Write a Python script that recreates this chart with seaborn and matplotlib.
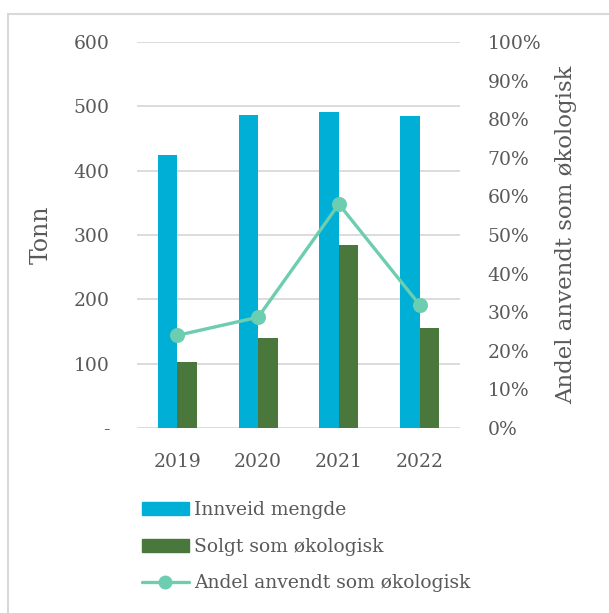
import pandas as pd
import matplotlib
matplotlib.use("Agg")
import matplotlib.pyplot as plt
import matplotlib.ticker as mticker
from matplotlib.patches import Rectangle, Patch
from matplotlib.lines import Line2D
import seaborn as sns

# data
years = ["2019", "2020", "2021", "2022"]
innveid = [424, 487, 491, 485]
solgt = [102, 140, 284, 155]
andel = [0.24, 0.287, 0.58, 0.319]

series_names = ["Innveid mengde", "Solgt som økologisk"]
line_name = "Andel anvendt som økologisk"

sns.set_style("white")
plt.rcParams['font.family'] = ['DejaVu Serif', 'DejaVu Sans']
txt = "#595959"
grid = "#D9D9D9"
blue, green, teal = "#00AFD6", "#4A773B", "#6DCDB1"

df = pd.DataFrame({
    "year": years * 2,
    "value": innveid + solgt,
    "series": [series_names[0]] * 4 + [series_names[1]] * 4,
})

fig = plt.figure(figsize=(6.09, 6.13), dpi=100)
ax = fig.add_axes([137 / 609, 1 - 428 / 613, (460 - 137) / 609, (428 - 42) / 613])

sns.barplot(data=df, x="year", y="value", hue="series", ax=ax, width=0.48,
            palette=[blue, green], saturation=1, legend=False, linewidth=0)
ax.set_ylim(0, 600)
ax.set_xlim(-0.5, 3.5)
ax.set_yticks(range(0, 601, 100))
ax.yaxis.set_major_formatter(mticker.FuncFormatter(lambda v, p: "-" if v == 0 else f"{int(v)}"))
ax.grid(axis="y", color=grid, linewidth=1.3)
ax.set_axisbelow(True)
for s in ax.spines.values():
    s.set_visible(False)
ax.tick_params(axis="y", length=0, pad=20, labelsize=13.5, labelcolor=txt)
ax.tick_params(axis="x", length=0, pad=18, labelsize=13.5, labelcolor=txt)
ax.set_xlabel("")
ax.set_ylabel("Tonn", fontsize=17, color=txt, labelpad=15)

ax2 = ax.twinx()
sns.pointplot(x=years, y=andel, ax=ax2, color=teal, markers="o",
              markersize=9, linewidth=2.4)
ax2.set_ylim(0, 1)
ax2.set_xlim(-0.5, 3.5)
ax2.set_yticks([i / 10 for i in range(11)])
ax2.yaxis.set_major_formatter(mticker.PercentFormatter(1.0, decimals=0))
for s in ax2.spines.values():
    s.set_visible(False)
ax2.tick_params(axis="y", length=0, pad=20, labelsize=13.5, labelcolor=txt)
ax2.set_ylabel(line_name, fontsize=16.5, color=txt, labelpad=10)

# chart border
fig.patches.append(Rectangle((8 / 609, -0.1), 1.2, 1 - 14 / 613 + 0.1, transform=fig.transFigure,
                             fill=False, edgecolor=grid, linewidth=1.5))

handles = [Patch(color=blue), Patch(color=green),
           Line2D([], [], color=teal, marker="o", markersize=9, linewidth=2.4)]
leg = fig.legend(handles, series_names + [line_name], loc="upper left",
                 bbox_to_anchor=(125 / 609, 1 - 484 / 613), frameon=False,
                 fontsize=13.5, handlelength=2.5, handletextpad=0.3, labelspacing=1.0)
for t in leg.get_texts():
    t.set_color(txt)

fig.savefig("out.png", dpi=100)
